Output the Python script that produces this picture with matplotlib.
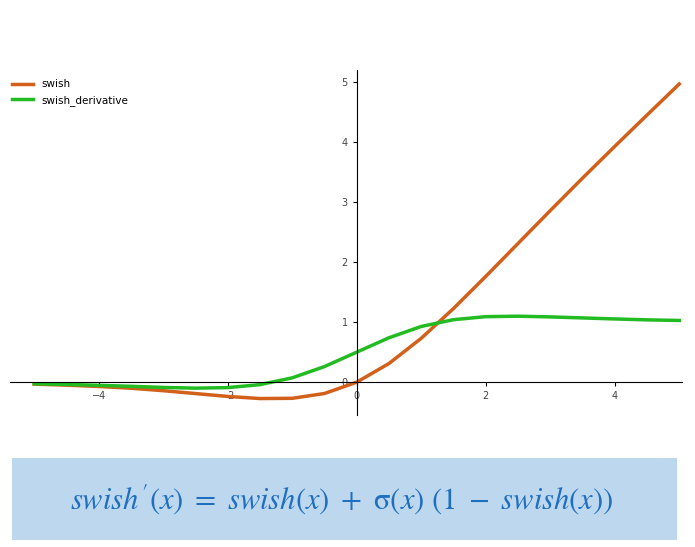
import matplotlib
matplotlib.use("Agg")
import matplotlib.pyplot as plt
from matplotlib.patches import Rectangle

x = [-5,-4.5,-4,-3.5,-3,-2.5,-2,-1.5,-1,-0.5,0,0.5,1,1.5,2,2.5,3,3.5,4,4.5,5]
swish = [-0.033,-0.050,-0.072,-0.101,-0.142,-0.190,-0.238,-0.273,-0.269,-0.189,0,
         0.311,0.731,1.227,1.762,2.31,2.858,3.399,3.928,4.45,4.967]
swish_derivative = [-0.026,-0.038,-0.053,-0.069,-0.088,-0.100,-0.091,-0.041,0.072,0.260,0.5,
                    0.740,0.928,1.041,1.091,1.099,1.087,1.070,1.053,1.038,1.028]

plt.rcParams["mathtext.fontset"] = "stix"
fig = plt.figure(figsize=(6.95, 5.47), dpi=100)
ax = fig.add_axes([0.014, 0.241, 0.968, 0.631])
ax.plot(x, swish, color="#d2601a", lw=2.5, label="swish")
ax.plot(x, swish_derivative, color="#22bb22", lw=2.5, label="swish_derivative")
ax.set_xlim(-5.38, 5.05)
ax.set_ylim(-0.55, 5.2)
for s in ["top", "right"]:
    ax.spines[s].set_visible(False)
ax.spines["left"].set_position(("data", 0))
ax.spines["bottom"].set_position(("data", 0))
ax.set_xticks([-4, -2, 0, 2, 4])
ax.set_yticks([0, 1, 2, 3, 4, 5])
ax.tick_params(labelsize=7, labelcolor="#444444", length=3)
ax.legend(loc="upper left", frameon=False, fontsize=7.5, bbox_to_anchor=(-0.01, 1.0))

fig.patches.append(Rectangle((12/695, 1-540/547), 665/695, 82/547,
                             transform=fig.transFigure, facecolor="#bdd7ee", edgecolor="none"))
fig.text(0.492, 1-499/547, r"$swish'(x)\ =\ swish(x)\ +\ \mathrm{\sigma}(x)\ (1\ -\ swish(x))$",
         ha="center", va="center", fontsize=22, color="#1f6fc0")
fig.savefig("out.png", dpi=100)
